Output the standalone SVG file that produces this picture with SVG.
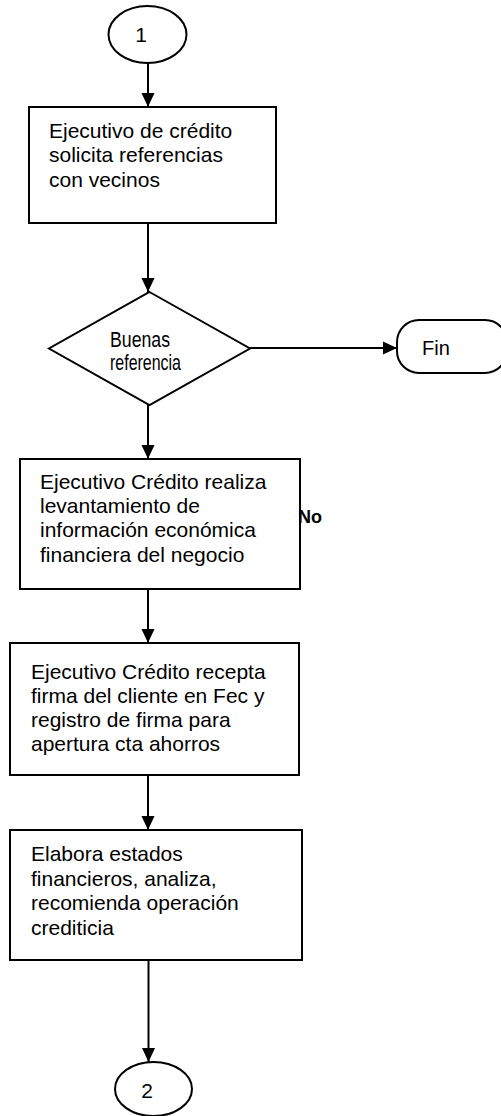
<svg xmlns="http://www.w3.org/2000/svg" width="501" height="1116" viewBox="0 0 501 1116">
<style>
.s{fill:#fff;stroke:#000;stroke-width:2}
.t{font-family:"Liberation Sans",Arial,sans-serif;font-size:21px;fill:#000}
.n{font-family:"Liberation Sans Narrow","Liberation Sans",Arial,sans-serif;font-size:22px;fill:#000}
.c line{stroke:#000;stroke-width:2}
</style>
<defs>
<marker id="a" markerWidth="14" markerHeight="14" refX="15" refY="7" orient="auto" markerUnits="userSpaceOnUse" viewBox="0 0 15 14">
<path d="M0,0 L15,7 L0,14 Z" fill="#000"/>
</marker>
</defs>
<g id="connectors" class="c">
<line x1="148" y1="63" x2="148" y2="107" marker-end="url(#a)"/>
<line x1="148" y1="223" x2="148" y2="292" marker-end="url(#a)"/>
<line x1="250" y1="348" x2="397" y2="348" marker-end="url(#a)"/>
<line x1="148" y1="405" x2="148" y2="459" marker-end="url(#a)"/>
<line x1="148" y1="589" x2="148" y2="643" marker-end="url(#a)"/>
<line x1="148" y1="775" x2="148" y2="830" marker-end="url(#a)"/>
<line x1="148.5" y1="960" x2="148.5" y2="1062" marker-end="url(#a)"/>
</g>
<g id="start">
<ellipse class="s" cx="147.5" cy="34.5" rx="39" ry="28.5"/>
<text class="t" x="141" y="42" text-anchor="middle">1</text>
</g>
<g id="step1">
<rect class="s" x="29" y="107" width="247" height="116"/>
<text class="t" x="49" y="138">Ejecutivo de crédito</text>
<text class="t" x="49" y="162">solicita referencias</text>
<text class="t" x="49" y="187">con vecinos</text>
</g>
<g id="decision">
<polygon class="s" points="149.5,292 250,348.5 149.5,405 49,348.5"/>
<text class="n" x="110" y="347" textLength="60" lengthAdjust="spacingAndGlyphs">Buenas</text>
<text class="n" x="110" y="370" textLength="71" lengthAdjust="spacingAndGlyphs">referencia</text>
</g>
<g id="fin">
<rect class="s" x="397" y="320" width="110" height="53" rx="22" ry="22"/>
<text class="t" x="422" y="355" style="font-size:20px">Fin</text>
</g>
<g id="step2">
<rect class="s" x="20" y="459" width="280" height="130"/>
<text class="t" x="40" y="489">Ejecutivo Crédito realiza</text>
<text class="t" x="40" y="513">levantamiento de</text>
<text class="t" x="40" y="537">información económica</text>
<text class="t" x="40" y="562">financiera del negocio</text>
</g>
<text id="label-no" x="298" y="523" style="font-family:'Liberation Sans',Arial,sans-serif;font-size:18px;font-weight:bold">No</text>
<g id="step3">
<rect class="s" x="10" y="643" width="289" height="132"/>
<text class="t" x="31" y="679">Ejecutivo Crédito recepta</text>
<text class="t" x="31" y="703">firma del cliente en Fec y</text>
<text class="t" x="31" y="727">registro de firma para</text>
<text class="t" x="31" y="751">apertura cta ahorros</text>
</g>
<g id="step4">
<rect class="s" x="10" y="830" width="292" height="130"/>
<text class="t" x="31" y="861">Elabora estados</text>
<text class="t" x="31" y="886">financieros, analiza,</text>
<text class="t" x="31" y="910">recomienda operación</text>
<text class="t" x="31" y="935">crediticia</text>
</g>
<g id="end">
<ellipse class="s" cx="153.5" cy="1089" rx="38.5" ry="27"/>
<text class="t" x="147" y="1098" text-anchor="middle">2</text>
</g>
</svg>
